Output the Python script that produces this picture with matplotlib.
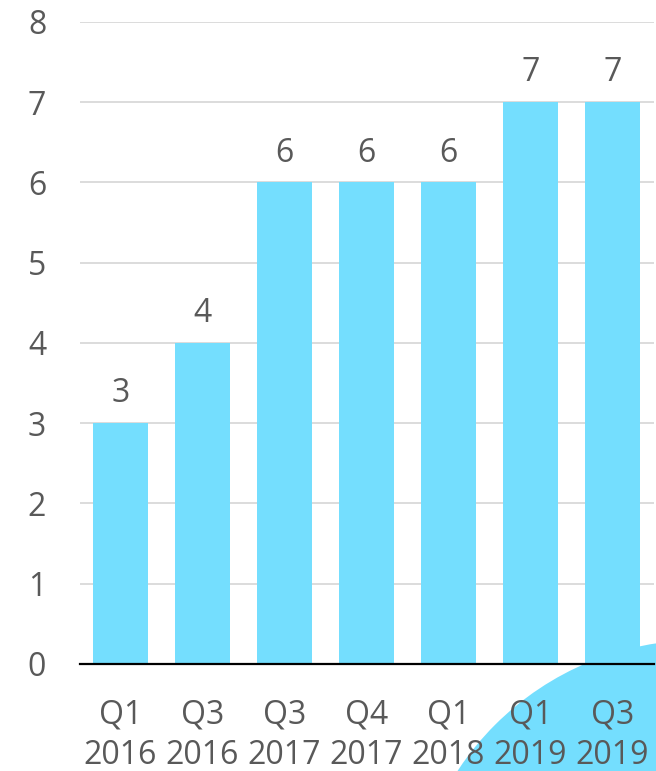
import matplotlib.pyplot as plt
from matplotlib.patches import Circle

# Quarterly values
categories = ["Q1\n2016", "Q3\n2016", "Q3\n2017", "Q4\n2017", "Q1\n2018", "Q1\n2019", "Q3\n2019"]
values = [3, 4, 6, 6, 6, 7, 7]
y_ticks = [0, 1, 2, 3, 4, 5, 6, 7, 8]

bar_color = "#74DEFE"
text_color = "#595959"

plt.rcParams["font.family"] = ["Open Sans", "DejaVu Sans"]

fig = plt.figure(figsize=(6.56, 7.71), dpi=100)
ax = fig.add_axes([0.1212, 0.1388, 0.875, 0.8327])
ax.set_facecolor("none")

# decorative circle in the lower right corner, behind the chart
fig.patches.append(Circle((7.00, 7.71 - 9.30), 2.9, transform=fig.dpi_scale_trans,
                          facecolor=bar_color, edgecolor="none", zorder=-1))

x = range(len(categories))
bars = ax.bar(x, values, width=0.67, color=bar_color, zorder=2)

# value labels above bars
for xi, v in zip(x, values):
    ax.text(xi, v + 0.26, str(v), ha="center", va="baseline",
            fontsize=23, color=text_color)

ax.set_xlim(-0.5, len(categories) - 0.5)
ax.set_ylim(0, 8)
ax.set_yticks(y_ticks)
ax.set_xticks(list(x))
ax.set_xticklabels(categories, linespacing=1.28)
ax.tick_params(axis="both", length=0, labelsize=23, labelcolor=text_color)
ax.tick_params(axis="y", pad=24)
ax.tick_params(axis="x", pad=25)

ax.grid(axis="y", color="#d9d9d9", linewidth=1.3, zorder=0)
ax.set_axisbelow(True)
for side in ["top", "right", "left"]:
    ax.spines[side].set_visible(False)
ax.spines["bottom"].set_color("black")
ax.spines["bottom"].set_linewidth(1.6)
ax.spines["bottom"].set_zorder(3)

fig.savefig("out.png", dpi=100)
